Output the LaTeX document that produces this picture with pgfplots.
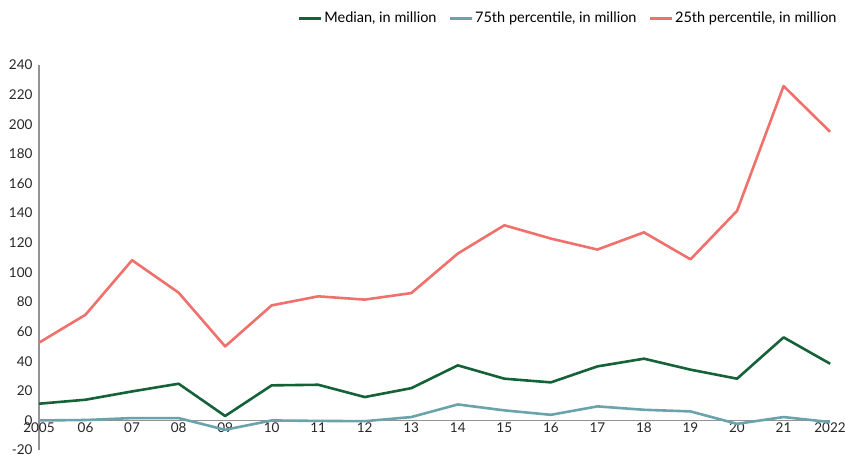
\documentclass[border=0pt]{standalone}
\usepackage{pgfplots}
\pgfplotsset{compat=1.18}
\usepackage{fontspec}
\setmainfont{Lato}
\definecolor{cmed}{RGB}{22,98,56}
\definecolor{cp75}{RGB}{106,163,172}
\definecolor{cp25}{RGB}{240,112,108}
\begin{document}
\begin{tikzpicture}
\begin{axis}[
  scale only axis, width=791pt, height=385pt,
  xmin=2005, xmax=2022, ymin=-20, ymax=240,
  axis x line*=middle, axis y line*=left,
  axis line style={draw=gray!85, line width=1.1pt},
  hide obscured x ticks=false,
  xtick={2005,...,2022},
  xticklabels={2005,06,07,08,09,10,11,12,13,14,15,16,17,18,19,20,21,2022},
  ytick={-20,0,...,240},
  major tick length=0pt,
  tick label style={font=\fontsize{13.5}{15}\selectfont, text=black!85},
  /pgf/number format/assume math mode=true,
  /pgf/number format/1000 sep={},
  yticklabel style={xshift=-3pt},
  xticklabel style={yshift=1pt},
  clip=false,
  legend style={at={(axis cs:2022.25,278.5)}, anchor=north east, draw=none, fill=none,
    font=\fontsize{14.5}{16}\selectfont, legend columns=3,
    /tikz/every even column/.append style={column sep=10pt}},
  legend image code/.code={\draw[#1] (0pt,0pt) -- (22pt,0pt);},
  every axis plot/.append style={line width=2.6pt, line join=round},
]
\addplot[cmed] coordinates {(2005,11.3)(2006,14)(2007,19.6)(2008,24.8)(2009,3)(2010,23.7)(2011,24.1)(2012,15.8)(2013,21.8)(2014,37.2)(2015,28.2)(2016,25.7)(2017,36.5)(2018,41.7)(2019,34.3)(2020,28.2)(2021,56.1)(2022,38.3)};
\addlegendentry{Median, in million}
\addplot[cp75] coordinates {(2005,0)(2006,0.3)(2007,1.6)(2008,1.6)(2009,-6.3)(2010,0)(2011,-0.3)(2012,-0.5)(2013,2.3)(2014,10.8)(2015,6.8)(2016,3.8)(2017,9.5)(2018,7.2)(2019,6.1)(2020,-2.3)(2021,2.3)(2022,-1.1)};
\addlegendentry{75th percentile, in million}
\addplot[cp25] coordinates {(2005,52.5)(2006,71.4)(2007,108.2)(2008,86.3)(2009,50)(2010,77.7)(2011,83.8)(2012,81.6)(2013,86)(2014,112.7)(2015,131.8)(2016,122.8)(2017,115.4)(2018,127)(2019,108.8)(2020,141.5)(2021,225.8)(2022,194.9)};
\addlegendentry{25th percentile, in million}
\coordinate (bl) at (axis cs:2004.162,-23.0);
\coordinate (tr) at (axis cs:2022.32,283.9);
\end{axis}
\pgfresetboundingbox
\useasboundingbox (bl) rectangle (tr);
\end{tikzpicture}
\end{document}
